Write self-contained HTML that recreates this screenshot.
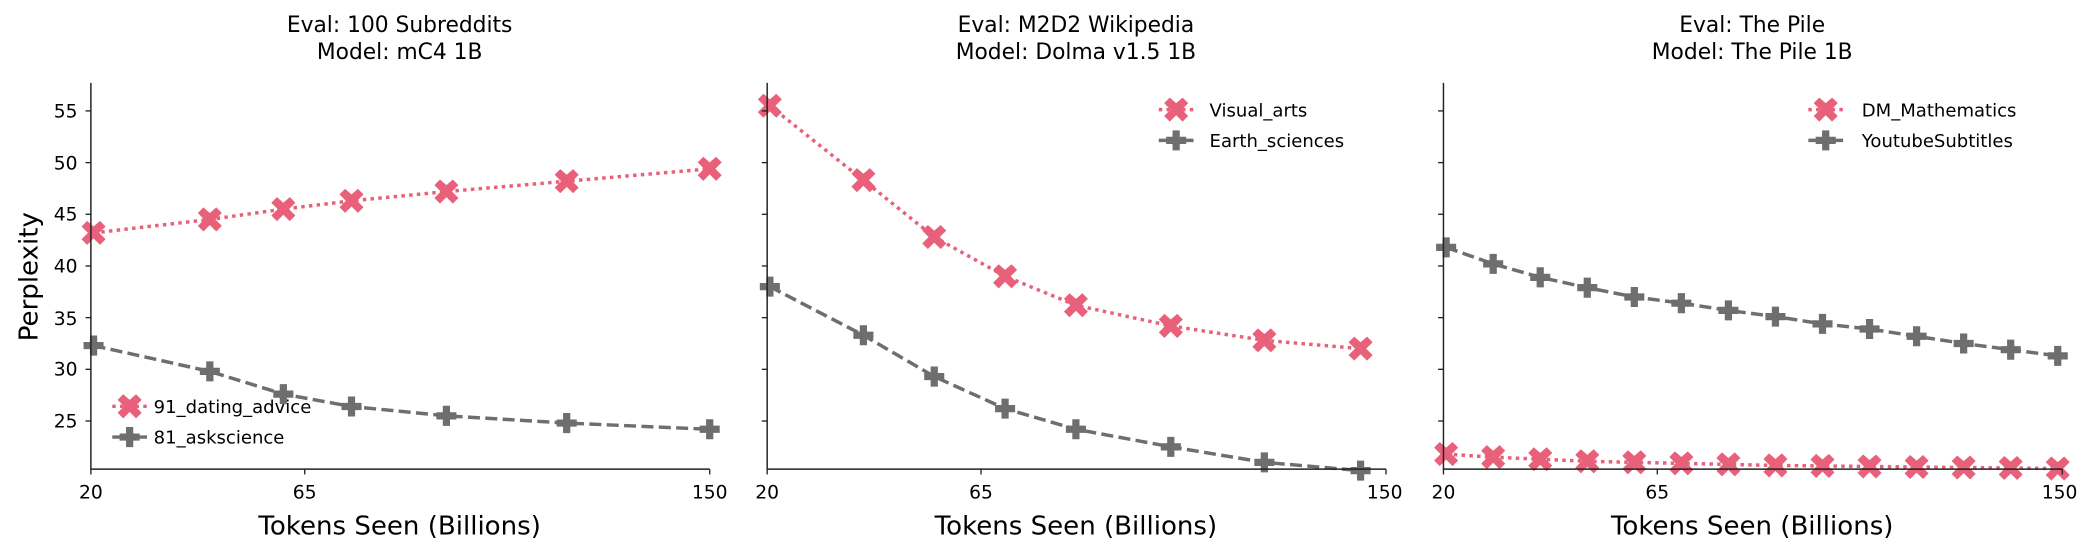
<!DOCTYPE html><html><head><style>body{margin:0;background:#fff}svg{display:block}text{font-family:"DejaVu Sans","Liberation Sans",sans-serif;fill:#000}</style></head><body>
<svg id="s" width="2085" height="555" viewBox="0 0 1560 415.25" preserveAspectRatio="none" xmlns="http://www.w3.org/2000/svg">
<g font-size="16.3" text-anchor="middle">
<text x="299" y="24">Eval: 100 Subreddits</text><text x="299" y="44">Model: mC4 1B</text>
<text x="805" y="24">Eval: M2D2 Wikipedia</text><text x="805" y="44">Model: Dolma v1.5 1B</text>
<text x="1311" y="24">Eval: The Pile</text><text x="1311" y="44">Model: The Pile 1B</text>
</g>
<g font-size="19.5" text-anchor="middle">
<text x="299" y="400">Tokens Seen (Billions)</text><text x="805" y="400">Tokens Seen (Billions)</text><text x="1311" y="400">Tokens Seen (Billions)</text>
<text transform="translate(28,207) rotate(-90)">Perplexity</text>
</g>
<g font-size="14" text-anchor="end">
<text x="58" y="88">55</text><text x="58" y="127">50</text><text x="58" y="165">45</text><text x="58" y="204">40</text><text x="58" y="243">35</text><text x="58" y="281">30</text><text x="58" y="320">25</text>
</g>
<g font-size="14" text-anchor="middle">
<text x="68" y="373">20</text><text x="228" y="373">65</text><text x="531" y="373">150</text>
<text x="574" y="373">20</text><text x="734" y="373">65</text><text x="1036" y="373">150</text>
<text x="1080" y="373">20</text><text x="1240" y="373">65</text><text x="1541" y="373">150</text>
</g>
<g font-size="13.5">
<text x="115" y="309">91_dating_advice</text><text x="115" y="332">81_askscience</text>
<text x="905" y="87">Visual_arts</text><text x="905" y="110">Earth_sciences</text>
<text x="1393" y="87">DM_Mathematics</text><text x="1393" y="110">YoutubeSubtitles</text>
</g>
<g id="g"></g>
</svg>
<script>
var g=document.getElementById('g'),h='';
function y(v){return 83+(55-v)*7.733}
var R='#e8607a',G='#6e6e6e';
function X(cx,cy){var a=4.2,b=9;return '<path d="M'+(cx-b)+','+(cy-b+a)+' L'+(cx-b+a)+','+(cy-b)+' L'+cx+','+(cy-b+a)+' L'+(cx+b-a)+','+(cy-b)+' L'+(cx+b)+','+(cy-b+a)+' L'+(cx+a)+','+cy+' L'+(cx+b)+','+(cy+b-a)+' L'+(cx+b-a)+','+(cy+b)+' L'+cx+','+(cy+a)+' L'+(cx-b+a)+','+(cy+b)+' L'+(cx-b)+','+(cy+b-a)+' L'+(cx-a)+','+cy+' Z" fill="'+R+'"/>'}
function P(cx,cy){return '<path d="M'+(cx-2.7)+','+(cy-7.5)+'h5.4v4.8h4.8v5.4h-4.8v4.8h-5.4v-4.8h-4.8v-5.4h4.8z" fill="'+G+'"/>'}
function ser(xs,vs,col,dash,m){var p=xs.map(function(x,i){return x+','+y(vs[i])}).join(' ');h+='<polyline points="'+p+'" fill="none" stroke="'+col+'" stroke-width="2.6" stroke-dasharray="'+dash+'"/>';xs.forEach(function(x,i){h+=m(x,y(vs[i]))})}
var x1=[70,157,212,263,334,424,531];
ser(x1,[32.3,29.8,27.6,26.4,25.5,24.8,24.2],G,'9,4',P);
ser(x1,[43.2,44.5,45.5,46.3,47.2,48.2,49.4],R,'2.6,3.2',X);
var x2=[576,646,699,752,805,876,946,1018];
ser(x2,[38,33.3,29.3,26.2,24.2,22.5,21,20.2],G,'9,4',P);
ser(x2,[55.5,48.3,42.8,39,36.2,34.2,32.8,32],R,'2.6,3.2',X);
var x3=[];for(var i=0;i<14;i++)x3.push(1082+i*35.2);
ser(x3,[41.8,40.2,38.9,37.9,37,36.4,35.7,35.1,34.4,33.9,33.2,32.5,31.9,31.3],G,'9,4',P);
ser(x3,[21.8,21.5,21.3,21.1,21,20.9,20.8,20.7,20.65,20.6,20.55,20.5,20.45,20.4],R,'2.6,3.2',X);
[[97,304,327],[880,82,105],[1366,82,105]].forEach(function(l){h+='<line x1="'+(l[0]-13)+'" y1="'+l[1]+'" x2="'+(l[0]+13)+'" y2="'+l[1]+'" stroke="'+R+'" stroke-width="2.6" stroke-dasharray="2.6,3.2"/>'+X(l[0],l[1]);h+='<line x1="'+(l[0]-13)+'" y1="'+l[2]+'" x2="'+(l[0]+13)+'" y2="'+l[2]+'" stroke="'+G+'" stroke-width="2.6"/>'+P(l[0],l[2])});
[68,574,1080].forEach(function(x0){h+='<path d="M'+x0+',62V351H'+(x0+463)+'" fill="none" stroke="#222" stroke-width="1.1"/>';
for(var v=25;v<=55;v+=5)h+='<line x1="'+(x0-4)+'" x2="'+x0+'" y1="'+y(v)+'" y2="'+y(v)+'" stroke="#222"/>';
[0,160,463].forEach(function(d){h+='<line x1="'+(x0+d)+'" x2="'+(x0+d)+'" y1="351" y2="355" stroke="#222"/>'})});
g.innerHTML=h;
</script>
</body></html>
